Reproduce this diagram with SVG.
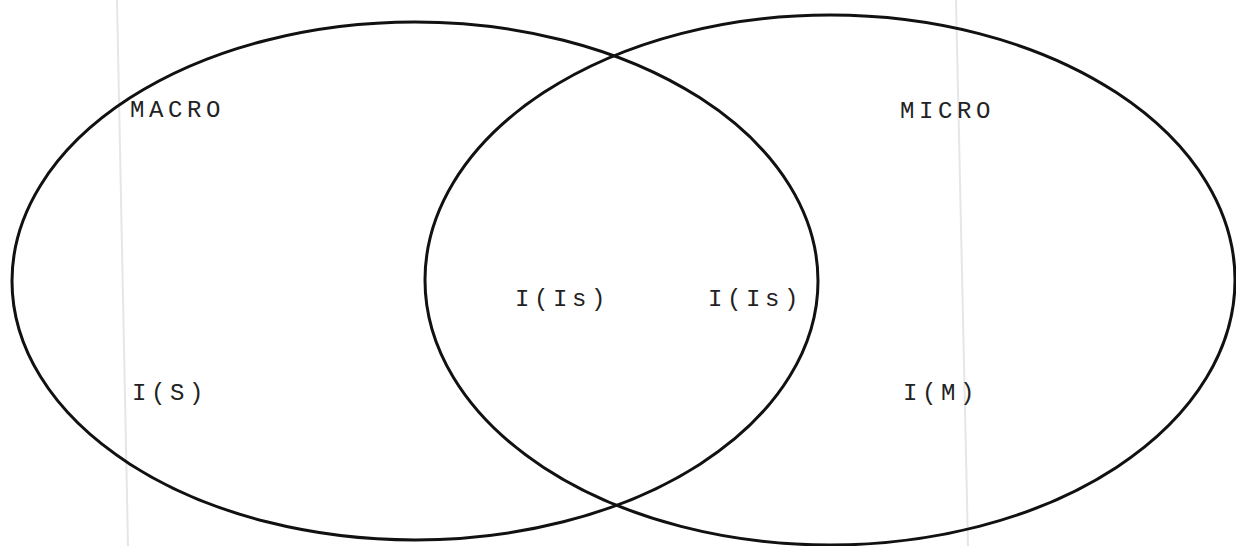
<svg xmlns="http://www.w3.org/2000/svg" width="1236" height="546" viewBox="0 0 1236 546">
<style>
.set{fill:none;stroke:#111;stroke-width:3}
.lbl{font-family:"Liberation Mono","DejaVu Sans Mono",monospace;font-size:24px;letter-spacing:4.6px;fill:#222}
.scan{stroke:#e6e6e6;stroke-width:2;fill:none}
</style>
<rect width="1236" height="546" fill="#fff"/>
<g id="scan-lines">
<line class="scan" x1="117" y1="0" x2="128" y2="546"/>
<line class="scan" x1="956" y1="0" x2="968" y2="546"/>
</g>
<g id="macro">
<ellipse class="set" cx="415" cy="281" rx="403" ry="259"/>
<text class="lbl" x="130" y="117">MACRO</text>
<text class="lbl" x="132" y="400">I(S)</text>
<text class="lbl" x="515" y="306">I(Is)</text>
</g>
<g id="micro">
<ellipse class="set" cx="830" cy="280" rx="405" ry="265"/>
<text class="lbl" x="900" y="118">MICRO</text>
<text class="lbl" x="903" y="400">I(M)</text>
<text class="lbl" x="708" y="306">I(Is)</text>
</g>
<g id="connectors"></g>
</svg>
